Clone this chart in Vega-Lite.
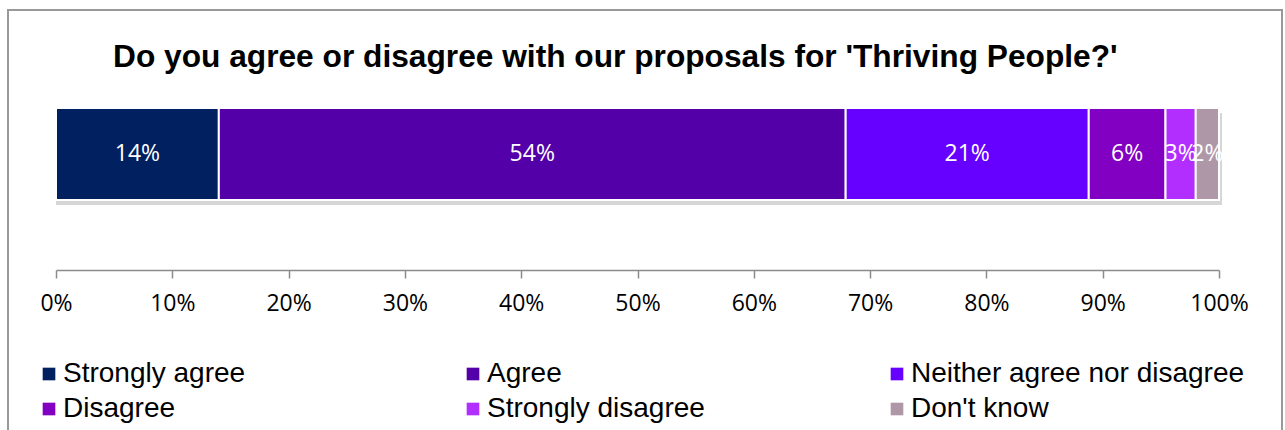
{
  "$schema": "https://vega.github.io/schema/vega-lite/v6.json",
  "autosize": "none",
  "padding": {"left": 8, "top": 10, "right": 3, "bottom": 0},
  "width": 1274,
  "height": 425,
  "background": "white",
  "config": {
    "view": {"stroke": "#999999", "strokeWidth": 2},
    "axis": {"grid": false}
  },
  "title": {
    "text": "Do you agree or disagree with our proposals for 'Thriving People?'",
    "anchor": "start",
    "frame": "group",
    "orient": "top",
    "offset": 0,
    "dx": 105,
    "dy": 89,
    "baseline": "alphabetic",
    "font": "Liberation Sans",
    "fontSize": 31.7,
    "fontWeight": "bold",
    "color": "#000000"
  },
  "data": {
    "values": [
      {"q": "Thriving People", "response": "Strongly agree", "value": 14.0, "label": "14%", "order": 1},
      {"q": "Thriving People", "response": "Agree", "value": 53.9, "label": "54%", "order": 2},
      {"q": "Thriving People", "response": "Neither agree nor disagree", "value": 20.9, "label": "21%", "order": 3},
      {"q": "Thriving People", "response": "Disagree", "value": 6.6, "label": "6%", "order": 4},
      {"q": "Thriving People", "response": "Strongly disagree", "value": 2.6, "label": "3%", "order": 5},
      {"q": "Thriving People", "response": "Don't know", "value": 2.0, "label": "2%", "order": 6}
    ]
  },
  "encoding": {
    "y": {
      "field": "q",
      "type": "nominal",
      "axis": null,
      "scale": {"range": [98, 190], "paddingInner": 0, "paddingOuter": 0}
    }
  },
  "layer": [
    {
      "mark": {"type": "bar", "fill": "#cccccc", "xOffset": 3, "yOffset": 5, "opacity": 0.8},
      "encoding": {
        "x": {"aggregate": "sum", "field": "value", "type": "quantitative"}
      }
    },
    {
      "mark": {"type": "bar", "stroke": "white", "strokeWidth": 2},
      "encoding": {
        "x": {
          "field": "value",
          "type": "quantitative",
          "stack": "zero",
          "scale": {"domain": [0, 100], "range": [48, 1211], "nice": false, "zero": true},
          "axis": {
            "title": null,
            "orient": "bottom",
            "offset": -165,
            "values": [0, 10, 20, 30, 40, 50, 60, 70, 80, 90, 100],
            "labelExpr": "datum.value + '%'",
            "labelFont": "Open Sans",
            "labelFontSize": 23,
            "labelColor": "#000000",
            "labelFlush": false,
            "labelPadding": 14,
            "domainColor": "#8c8c8c",
            "domainWidth": 1.5,
            "tickColor": "#8c8c8c",
            "tickWidth": 1.5,
            "tickSize": 8
          }
        },
        "color": {
          "field": "response",
          "type": "nominal",
          "sort": null,
          "scale": {
            "domain": ["Strongly agree", "Agree", "Neither agree nor disagree", "Disagree", "Strongly disagree", "Don't know"],
            "range": ["#002060", "#5400A8", "#6600FF", "#8200C2", "#B22EFF", "#AE98A8"]
          },
          "legend": {
            "title": null,
            "orient": "none",
            "legendX": 27,
            "legendY": 350,
            "columns": 3,
            "direction": "horizontal",
            "gridAlign": "all",
            "columnPadding": 62,
            "rowPadding": 7,
            "symbolType": "square",
            "symbolSize": 160,
            "symbolStrokeWidth": 0,
            "labelOffset": 0,
            "labelFont": "Liberation Sans",
            "labelFontSize": 28,
            "labelColor": "#000000",
            "labelLimit": 500
          }
        },
        "order": {"field": "order", "type": "quantitative"}
      }
    },
    {
      "mark": {"type": "text", "color": "white", "font": "Open Sans", "fontSize": 23, "align": "center", "baseline": "middle"},
      "encoding": {
        "x": {"field": "value", "type": "quantitative", "stack": "zero", "bandPosition": 0.5},
        "text": {"field": "label"},
        "order": {"field": "order", "type": "quantitative"},
        "detail": {"field": "response"}
      }
    }
  ]
}
